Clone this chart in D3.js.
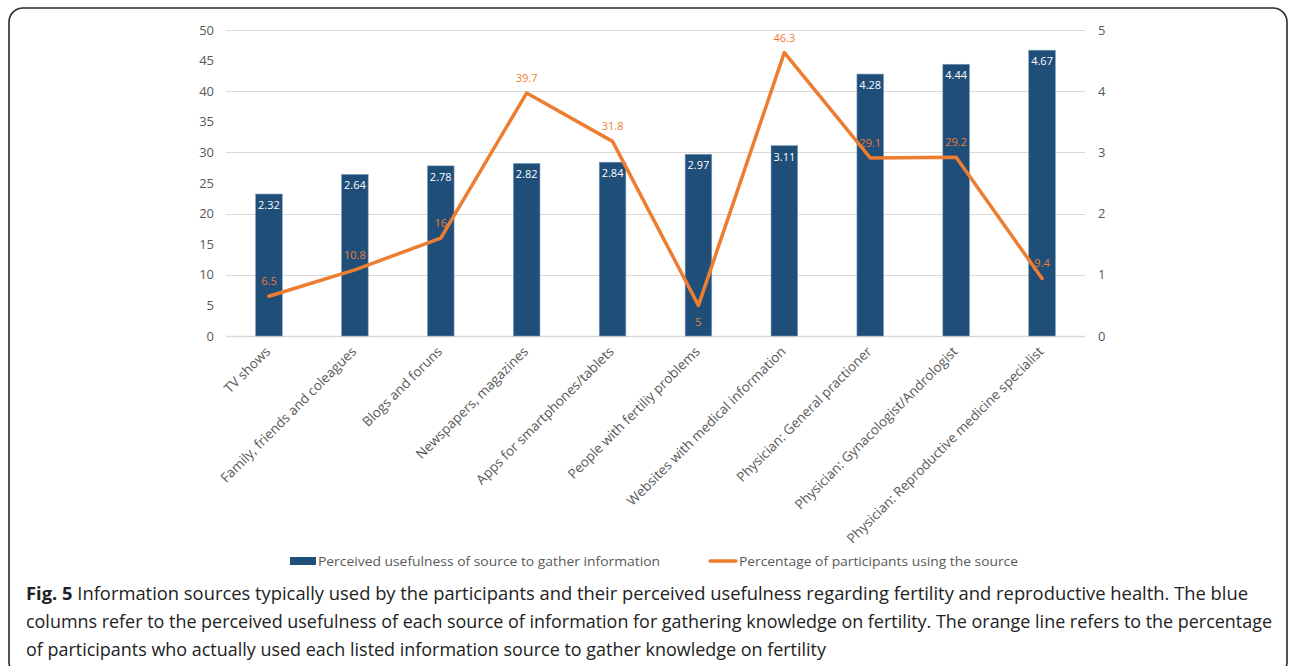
<!DOCTYPE html>
<html>
<head>
<meta charset="utf-8">
<script src="https://cdn.jsdelivr.net/npm/d3@7"></script>
<style>
  html, body { margin: 0; padding: 0; background: #fff; }
  svg { display: block; }
</style>
</head>
<body>
<svg id="chart" width="1290" height="666"></svg>
<script>
const categories = [
  "TV shows",
  "Family, friends and coleagues",
  "Blogs and foruns",
  "Newspapers, magazines",
  "Apps for smartphones/tablets",
  "People with fertiliy problems",
  "Websites with medical information",
  "Physician: General practioner",
  "Physician: Gynacologist/Andrologist",
  "Physician: Reproductive medicine specialist"
];
const usefulness = [2.32, 2.64, 2.78, 2.82, 2.84, 2.97, 3.11, 4.28, 4.44, 4.67];
const percentage = [6.5, 10.8, 16, 39.7, 31.8, 5, 46.3, 29.1, 29.2, 9.4];
const percentLabelSide = ["above","above","above","above","above","below","above","above","above","above"];
const leftTicks = [0, 5, 10, 15, 20, 25, 30, 35, 40, 45, 50];
const rightTicks = [0, 1, 2, 3, 4, 5];
const gridTicks = [0, 10, 20, 30, 40, 50];
const seriesNames = ["Perceived usefulness of source to gather information", "Percentage of participants using the source"];
const captionLines = [
  {bold: "Fig. 5", text: " Information sources typically used by the participants and their perceived usefulness regarding fertility and reproductive health. The blue"},
  {bold: "", text: "columns refer to the perceived usefulness of each source of information for gathering knowledge on fertility. The orange line refers to the percentage"},
  {bold: "", text: "of participants who actually used each listed information source to gather knowledge on fertility"}
];

const svg = d3.select("#chart");
const font = "'Open Sans', 'Noto Sans', sans-serif";
const barColor = "#1f4e79", lineColor = "#ed7d31", axisText = "#595959", gridColor = "#d9d9d9";

// frame
svg.append("rect").attr("x", 9).attr("y", 8).attr("width", 1278).attr("height", 668)
  .attr("rx", 14).attr("fill", "none").attr("stroke", "#2a2a2a").attr("stroke-width", 1.6);

const plot = {left: 226, right: 1085, top: 30, bottom: 336};
const x = d3.scaleBand().domain(categories).range([plot.left, plot.right]).paddingInner(0.69).paddingOuter(0.345);
const yL = d3.scaleLinear().domain([0, 50]).range([plot.bottom, plot.top]);
const yR = d3.scaleLinear().domain([0, 5]).range([plot.bottom, plot.top]);

// gridlines
svg.append("g").selectAll("line").data(gridTicks).join("line")
  .attr("x1", plot.left).attr("x2", plot.right)
  .attr("y1", d => Math.round(yL(d)) + 0.5).attr("y2", d => Math.round(yL(d)) + 0.5)
  .attr("stroke", gridColor).attr("stroke-width", d => d === 0 ? 1.5 : 1);

// left axis
const leftAxis = svg.append("g").attr("transform", `translate(${plot.left - 12},0)`)
  .call(d3.axisLeft(yL).tickValues(leftTicks).tickSize(0).tickPadding(0).tickFormat(d3.format("d")));
leftAxis.select(".domain").remove();
leftAxis.selectAll("text").attr("font-family", font).attr("font-size", 13).attr("fill", axisText);

// right axis
const rightAxis = svg.append("g").attr("transform", `translate(${plot.right + 13},0)`)
  .call(d3.axisRight(yR).tickValues(rightTicks).tickSize(0).tickPadding(0).tickFormat(d3.format("d")));
rightAxis.select(".domain").remove();
rightAxis.selectAll("text").attr("font-family", font).attr("font-size", 13).attr("fill", axisText);

// bars (right axis)
svg.append("g").selectAll("rect").data(usefulness).join("rect")
  .attr("x", (d, i) => x(categories[i]))
  .attr("width", x.bandwidth())
  .attr("y", d => yR(d))
  .attr("height", d => yR(0) - yR(d))
  .attr("fill", barColor).attr("stroke", "#7f9cbc").attr("stroke-width", 0.6);

svg.append("g").selectAll("text").data(usefulness).join("text")
  .attr("x", (d, i) => x(categories[i]) + x.bandwidth() / 2)
  .attr("y", d => yR(d) + 15)
  .attr("text-anchor", "middle").attr("font-family", font).attr("font-size", 11)
  .attr("fill", "#ffffff").text(d => d);

// line (left axis)
const cx = i => x(categories[i]) + x.bandwidth() / 2;
const line = d3.line().x((d, i) => cx(i)).y(d => yL(d));
svg.append("path").datum(percentage).attr("d", line)
  .attr("fill", "none").attr("stroke", lineColor).attr("stroke-width", 3.5)
  .attr("stroke-linejoin", "round").attr("stroke-linecap", "round");

svg.append("g").selectAll("text").data(percentage).join("text")
  .attr("x", (d, i) => cx(i))
  .attr("y", (d, i) => percentLabelSide[i] === "below" ? yL(d) + 21 : yL(d) - 11)
  .attr("text-anchor", "middle").attr("font-family", font).attr("font-size", 11)
  .attr("fill", lineColor).text(d => d);

// category labels
svg.append("g").selectAll("text").data(categories).join("text")
  .attr("transform", d => `translate(${x(d) + x.bandwidth() / 2 - 1},${plot.bottom + 13}) rotate(-45)`)
  .attr("text-anchor", "end").attr("dy", "0.35em")
  .attr("font-family", font).attr("font-size", 13.5).attr("fill", axisText)
  .text(d => d);

// legend
const lg = svg.append("g");
lg.append("rect").attr("x", 290).attr("y", 557).attr("width", 26).attr("height", 8).attr("fill", barColor);
lg.append("text").attr("x", 318).attr("y", 566).attr("font-family", font).attr("font-size", 13)
  .attr("fill", axisText).attr("textLength", 342).attr("lengthAdjust", "spacingAndGlyphs").text(seriesNames[0]);
lg.append("line").attr("x1", 710).attr("x2", 736).attr("y1", 561).attr("y2", 561)
  .attr("stroke", lineColor).attr("stroke-width", 3.5).attr("stroke-linecap", "round");
lg.append("text").attr("x", 739).attr("y", 566).attr("font-family", font).attr("font-size", 13)
  .attr("fill", axisText).attr("textLength", 279).attr("lengthAdjust", "spacingAndGlyphs").text(seriesNames[1]);

// caption
const capWidths = [1222, 1246, 800];
const capG = svg.append("g");
captionLines.forEach((ln, i) => {
  const t = capG.append("text").attr("x", 26).attr("y", 600 + i * 28)
    .attr("font-family", font).attr("font-size", 18).attr("fill", "#222")
    .attr("textLength", capWidths[i]).attr("lengthAdjust", "spacingAndGlyphs");
  if (ln.bold) t.append("tspan").attr("font-weight", "bold").text(ln.bold);
  t.append("tspan").text(ln.text);
});
</script>
</body>
</html>
